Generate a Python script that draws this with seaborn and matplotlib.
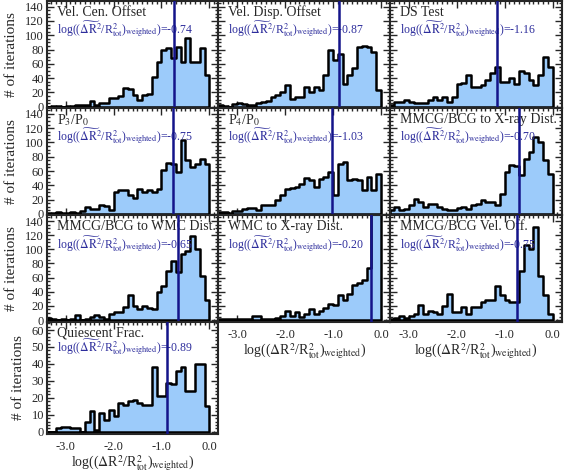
import numpy as np
import pandas as pd
import matplotlib
matplotlib.use('Agg')
import matplotlib.pyplot as plt
from matplotlib.ticker import MultipleLocator, FormatStrFormatter
from matplotlib.transforms import ScaledTranslation
import seaborn as sns

# histogram bins: log((dR^2/R^2_tot)_weighted), width 0.1 from -3.4 to 0.0
bin_lo, bin_hi, bin_w = -3.4, 0.0, 0.1
bin_centers = np.round(np.arange(bin_lo + bin_w / 2, bin_hi, bin_w), 3)

# counts per bin
vel_cen_offset = [0, 1, 1, 0, 1, 1, 3, 3, 3, 8, 3, 5, 5, 12, 12, 15, 26, 25, 17, 10,
                  16, 18, 42, 63, 80, 82, 68, 84, 62, 96, 63, 63, 82, 45]
vel_disp_offset = [2, 1, 0, 4, 5, 4, 2, 2, 5, 6, 8, 13, 16, 20, 30, 11, 14, 14, 28, 20,
                   27, 24, 44, 80, 66, 74, 32, 45, 54, 84, 85, 83, 77, 23]
ds_test = [3, 6, 7, 10, 6, 5, 5, 5, 10, 13, 10, 14, 6, 14, 32, 33, 45, 28, 28, 30,
           38, 47, 55, 34, 34, 40, 32, 50, 47, 38, 30, 45, 70, 55]
p3_p0 = [1, 1, 3, 1, 1, 2, 1, 4, 10, 7, 7, 13, 11, 5, 30, 34, 33, 27, 22, 35,
         30, 33, 30, 35, 62, 71, 70, 59, 103, 75, 66, 70, 77, 70]
p4_p0 = [2, 3, 1, 4, 4, 7, 8, 8, 5, 12, 12, 12, 19, 27, 35, 36, 37, 42, 50, 47,
         37, 49, 51, 58, 27, 70, 72, 47, 49, 48, 33, 51, 33, 56]
bcg_xray_dist = [5, 10, 5, 7, 12, 21, 17, 10, 14, 14, 10, 7, 5, 5, 8, 10, 7, 12, 14, 19,
                 16, 17, 12, 28, 58, 68, 67, 55, 77, 86, 107, 100, 75, 56]
bcg_wmc_dist = [3, 2, 0, 1, 0, 1, 7, 0, 2, 4, 7, 4, 1, 9, 11, 12, 18, 36, 20, 15,
                20, 17, 15, 40, 48, 69, 83, 68, 93, 97, 119, 101, 62, 28]
wmc_xray_dist = [2, 2, 2, 2, 2, 2, 2, 6, 6, 1, 1, 1, 3, 6, 13, 6, 12, 4, 8, 16,
                 9, 13, 17, 23, 22, 36, 28, 37, 49, 52, 57, 73, 240, 290]
bcg_vel_off = [2, 3, 6, 3, 6, 8, 21, 8, 13, 12, 9, 20, 37, 12, 11, 18, 9, 18, 19, 25,
               28, 28, 48, 36, 29, 26, 25, 69, 106, 101, 131, 62, 36, 8]
quiescent_frac = [0, 0, 2, 3, 3, 2, 2, 0, 6, 12, 1, 11, 7, 13, 9, 17, 16, 18, 19, 17,
                  16, 16, 38, 21, 21, 29, 28, 36, 38, 24, 24, 40, 40, 15]

titles = ['Vel. Cen. Offset', 'Vel. Disp. Offset', 'DS Test',
          r'P$_3$/P$_0$', r'P$_4$/P$_0$', 'MMCG/BCG to X-ray Dist.',
          'MMCG/BCG to WMC Dist.', 'WMC to X-ray Dist.', 'MMCG/BCG Vel. Off.',
          'Quiescent Frac.']
medians = [-0.74, -0.87, -1.16, -0.75, -1.03, -0.70, -0.65, -0.20, -0.75, -0.89]
counts = [vel_cen_offset, vel_disp_offset, ds_test, p3_p0, p4_p0, bcg_xray_dist,
          bcg_wmc_dist, wmc_xray_dist, bcg_vel_off, quiescent_frac]

fill_color = '#9ccbfa'
line_color = '#14148a'
text_blue = '#2d2d9c'

sns.set_style('ticks')
plt.rcParams['font.family'] = ['Liberation Serif', 'DejaVu Serif']
plt.rcParams['mathtext.fontset'] = 'stix'
plt.rcParams['axes.unicode_minus'] = False

fig, axes = plt.subplots(4, 3, figsize=(5.65, 4.73), dpi=100,
                         gridspec_kw=dict(wspace=0, hspace=0, left=0.083, right=0.994,
                                          top=0.998, bottom=0.083,
                                          height_ratios=[107, 107, 106, 112]))

med_fmt = r'log(($\widetilde{\Delta\mathrm{R}}^2$/R$^2_{\mathrm{tot}}$)$_{\mathrm{weighted}}$)=%.2f'
xlab = r'log(($\Delta$R$^2$/R$^2_{\mathrm{tot}}$)$_{\mathrm{weighted}}$)'
px = 0.72  # points per pixel at 100 dpi

for i in range(10):
    r, c = divmod(i, 3)
    ax = axes[r, c]
    df = pd.DataFrame({'logr': bin_centers, 'n': counts[i]})
    sns.histplot(data=df, x='logr', weights='n', binwidth=bin_w, binrange=(bin_lo, bin_hi),
                 element='step', fill=True, color=fill_color, edgecolor='black',
                 linewidth=1.8, alpha=1, ax=ax)
    ax.axvline(medians[i], color=line_color, lw=1.8, zorder=5)
    ax.set_xlim(-3.39, 0.19)
    if r < 3:
        ax.set_ylim(-2, 148)
        yt = list(range(0, 141, 20))
        ax.yaxis.set_minor_locator(MultipleLocator(5))
        blue_dy = -28.5
    else:
        ax.set_ylim(-1.2, 65)
        yt = list(range(0, 61, 10))
        ax.yaxis.set_minor_locator(MultipleLocator(2))
        blue_dy = -25.5
    ax.set_yticks(yt)
    ylabs = ax.set_yticklabels([str(v) for v in yt])
    # the "0" label sits a little above its tick, as in the original
    ylabs[0].set_transform(ylabs[0].get_transform() +
                           ScaledTranslation(0, 4.5 / 100, fig.dpi_scale_trans))
    ax.xaxis.set_major_locator(MultipleLocator(1))
    ax.xaxis.set_minor_locator(MultipleLocator(0.1))
    ax.xaxis.set_major_formatter(FormatStrFormatter('%.1f'))
    ax.tick_params(which='both', direction='in', top=True, right=True,
                   labelsize=9, width=1.0)
    ax.tick_params(axis='y', pad=2)
    ax.tick_params(axis='x', pad=5.5)
    ax.tick_params(which='major', length=5)
    ax.tick_params(which='minor', length=2.5)
    for s in ax.spines.values():
        s.set_linewidth(1.5)
    ax.annotate(titles[i], xy=(0, 1), xycoords='axes fraction',
                xytext=(10 * px, -11.5 * px), textcoords='offset points',
                va='center', ha='left', fontsize=10)
    ax.annotate(med_fmt % medians[i], xy=(0, 1), xycoords='axes fraction',
                xytext=(10 * px, blue_dy * px), textcoords='offset points',
                va='center', ha='left', fontsize=8.5, color=text_blue)
    if c == 0:
        ax.set_ylabel('# of iterations', fontsize=11, labelpad=5)
    else:
        ax.set_ylabel('')
        ax.tick_params(labelleft=False)
    if (r == 3) or (r == 2 and c > 0):
        ax.set_xlabel(xlab, fontsize=10, labelpad=0)
    else:
        ax.set_xlabel('')
        ax.tick_params(labelbottom=False)

axes[3, 1].remove()
axes[3, 2].remove()

fig.savefig('out.png', dpi=100)
